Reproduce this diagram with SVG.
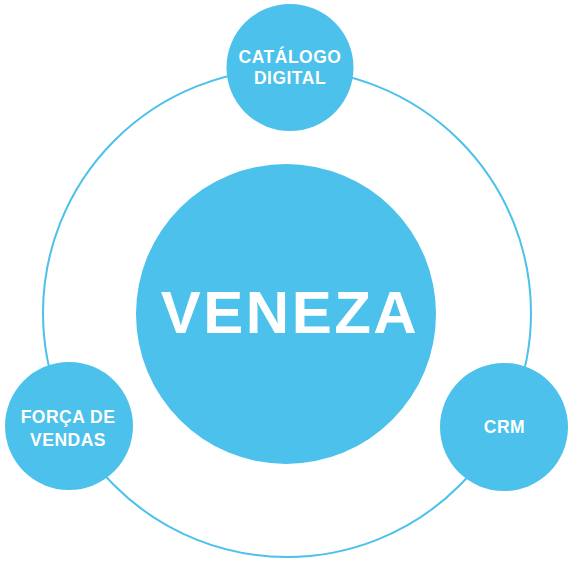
<svg xmlns="http://www.w3.org/2000/svg" width="574" height="563" viewBox="0 0 574 563">
<style>
.n{fill:#4bc1eb}
.t{fill:#fff;font-family:"Liberation Sans",Arial,sans-serif;font-weight:bold;text-anchor:middle}
.s{font-size:17.5px;letter-spacing:0.5px}
</style>
<rect width="574" height="563" fill="#fff"/>
<g id="connectors">
<circle cx="287" cy="313" r="244" fill="none" stroke="#4bc1eb" stroke-width="2"/>
</g>
<g id="veneza">
<circle class="n" cx="286" cy="314" r="150"/>
<text class="t" x="290" y="333" font-size="60" letter-spacing="2.5">VENEZA</text>
</g>
<g id="catalogo">
<circle class="n" cx="290" cy="67.5" r="63.5"/>
<text class="t s" x="290" y="63">CATÁLOGO</text>
<text class="t s" x="290" y="84">DIGITAL</text>
</g>
<g id="forca">
<circle class="n" cx="69" cy="426" r="64"/>
<text class="t s" x="68" y="423">FORÇA DE</text>
<text class="t s" x="68" y="446">VENDAS</text>
</g>
<g id="crm">
<circle class="n" cx="504" cy="427" r="64"/>
<text class="t s" x="504.5" y="433">CRM</text>
</g>
</svg>
